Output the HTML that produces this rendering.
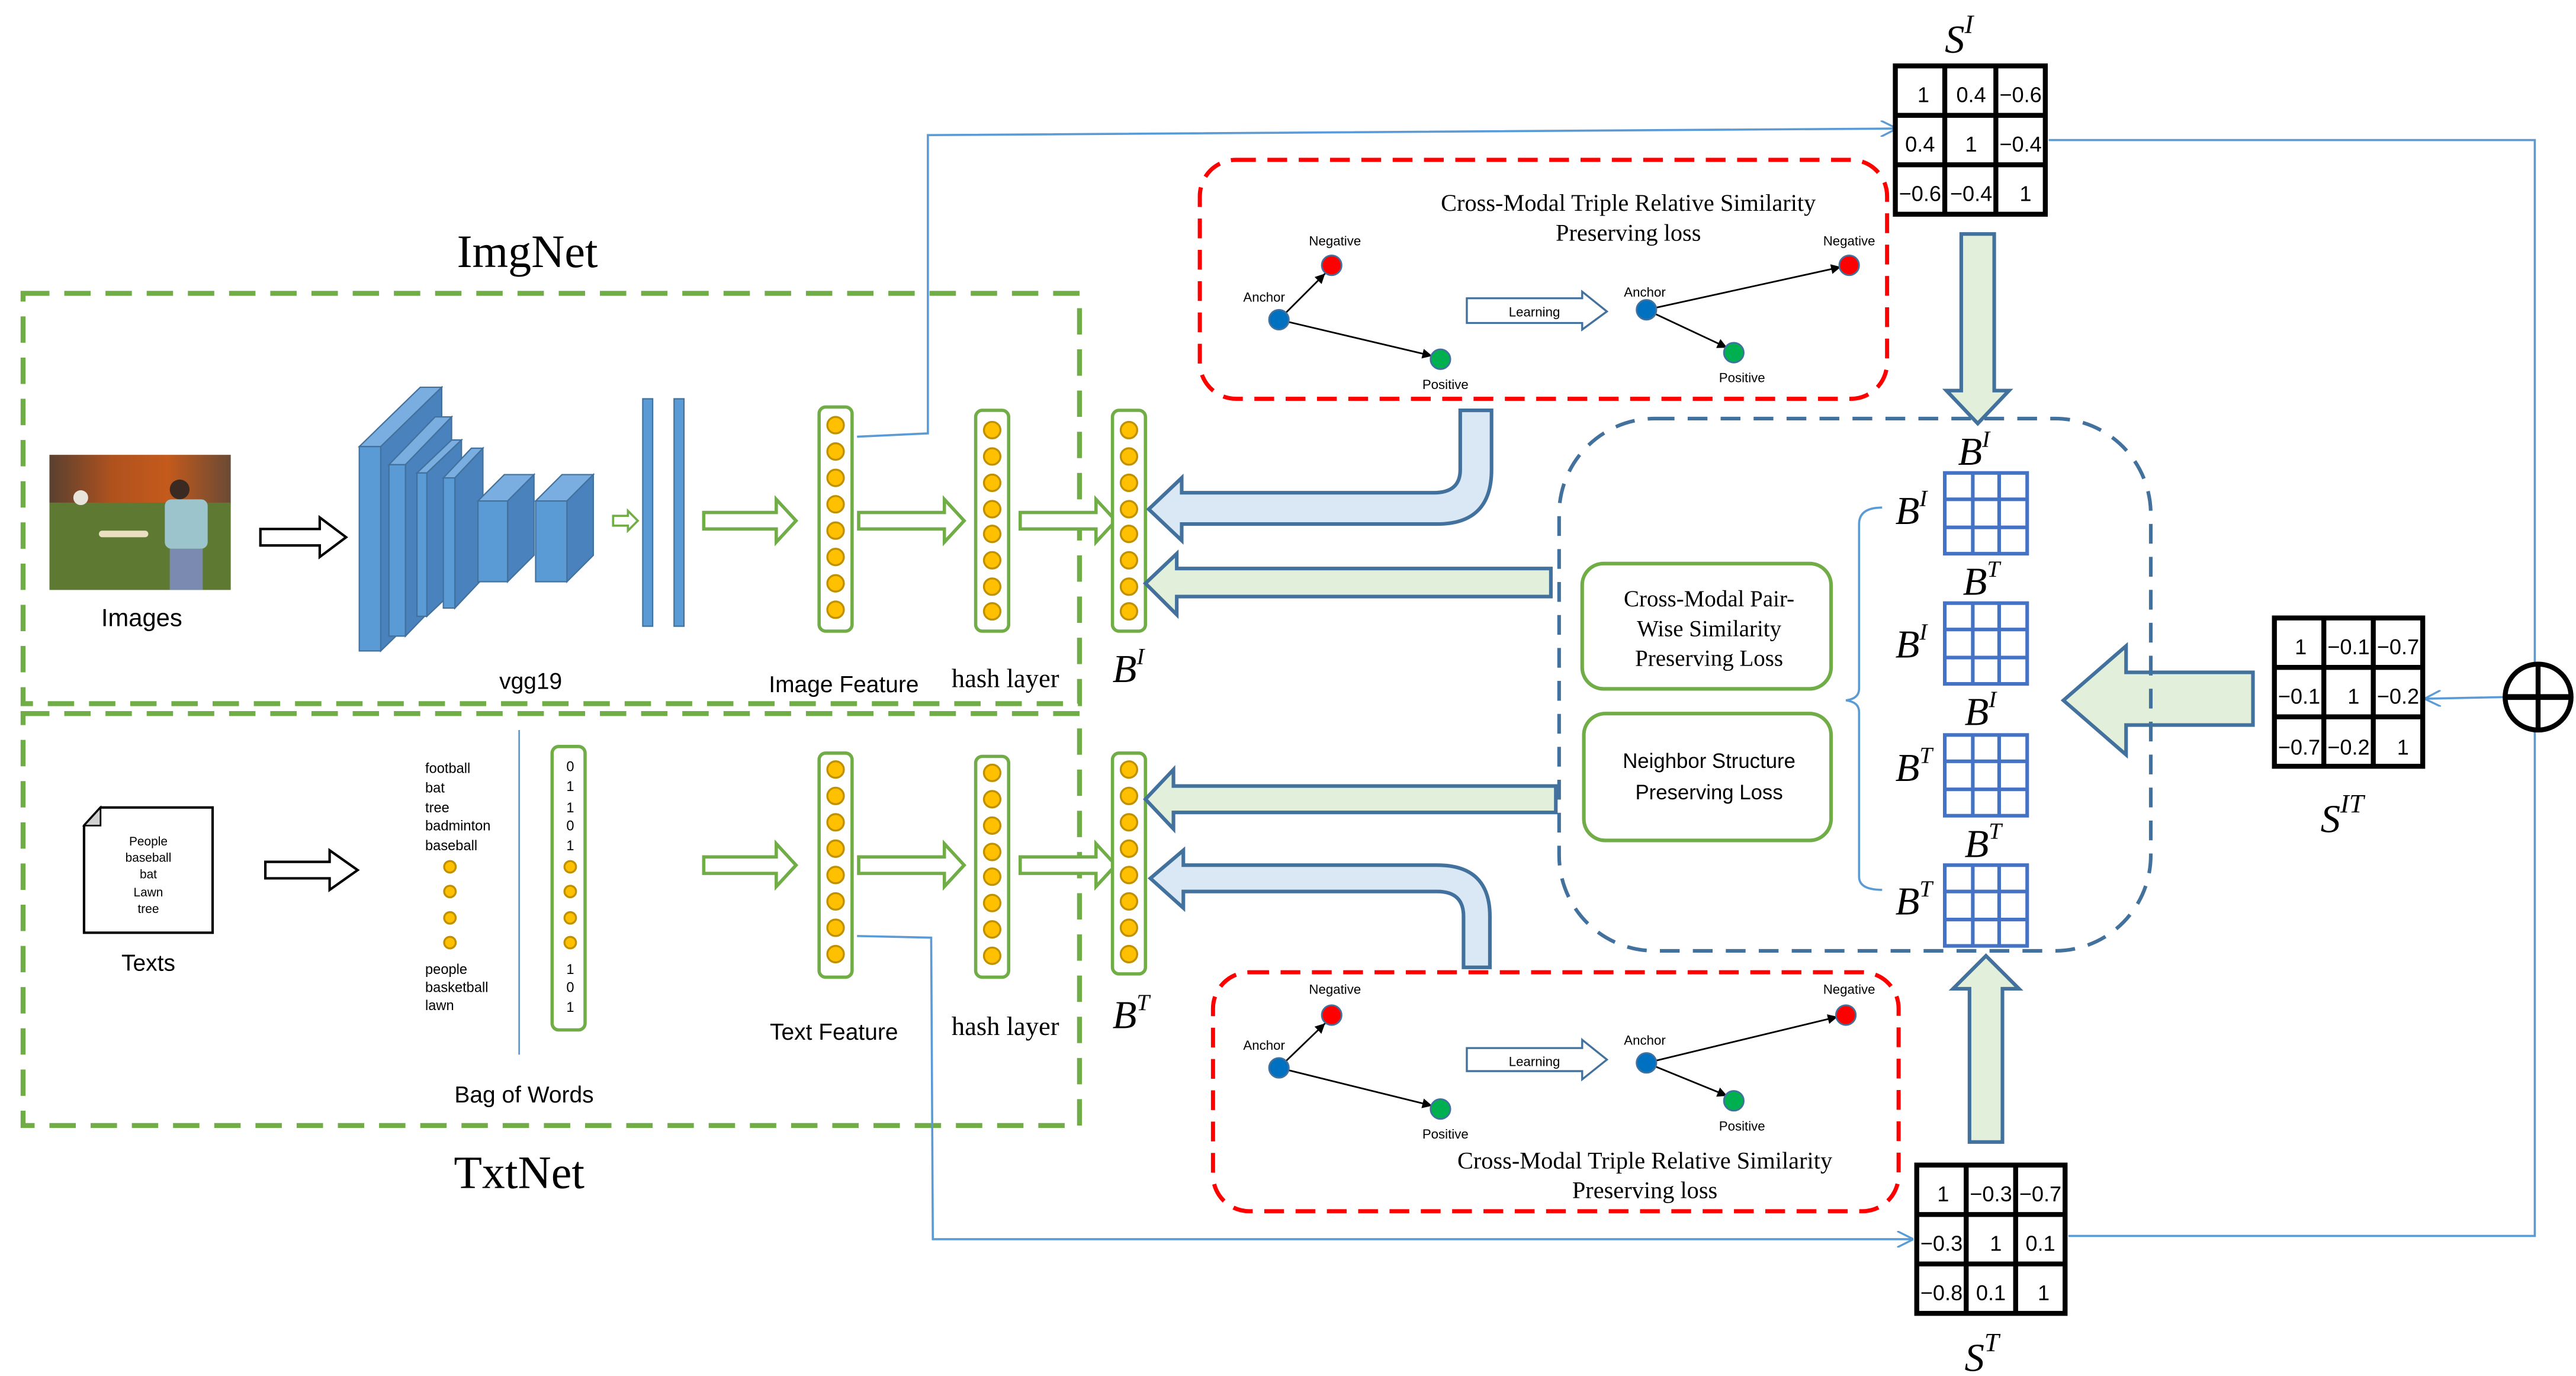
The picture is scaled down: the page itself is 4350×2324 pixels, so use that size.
<!DOCTYPE html>
<html><head><meta charset="utf-8"><style>
html,body{margin:0;padding:0;background:#fff;}
svg{display:block;}
.sans{font-family:"Liberation Sans",sans-serif;}
.serif{font-family:"Liberation Serif",serif;}
</style></head><body>
<svg width="4350" height="2324" viewBox="0 0 1563 835" preserveAspectRatio="none" xmlns="http://www.w3.org/2000/svg">
<defs>
<marker id="ab" markerWidth="10" markerHeight="10" refX="9" refY="5" orient="auto" markerUnits="userSpaceOnUse"><path d="M0,0 L10,5 L0,10" fill="none" stroke="#5b9bd5" stroke-width="1.2"/></marker>
<marker id="ak" markerWidth="6" markerHeight="6" refX="6" refY="3" orient="auto" markerUnits="userSpaceOnUse"><path d="M0,0 L6,3 L0,6 z" fill="#000"/></marker>
<linearGradient id="sky" x1="0" y1="0" x2="1" y2="0"><stop offset="0" stop-color="#5a4030"/><stop offset="0.35" stop-color="#b0521e"/><stop offset="0.65" stop-color="#c45a1c"/><stop offset="1" stop-color="#6a4a35"/></linearGradient>
</defs>
<rect width="1563" height="835" fill="#fff"/>

<!-- titles -->
<text x="320" y="162" text-anchor="middle" class="serif" font-size="28">ImgNet</text>
<text x="315" y="721" text-anchor="middle" class="serif" font-size="28">TxtNet</text>

<!-- green dashed boxes -->
<rect x="14" y="178" width="641" height="249" fill="none" stroke="#70ad47" stroke-width="3" stroke-dasharray="16,9"/>
<rect x="14" y="433" width="641" height="250" fill="none" stroke="#70ad47" stroke-width="3" stroke-dasharray="16,9"/>

<!-- photo -->
<rect x="30" y="276" width="110" height="30" fill="url(#sky)"/>
<rect x="30" y="305" width="110" height="53" fill="#5e7a32"/>
<circle cx="49" cy="302" r="4.5" fill="#e8e4dc"/>
<rect x="60" y="322" width="30" height="4" rx="2" fill="#e8e0c0"/>
<circle cx="109" cy="297" r="6" fill="#3a2a22"/>
<rect x="100" y="303" width="26" height="30" rx="4" fill="#9cc4cc"/>
<rect x="103" y="333" width="20" height="25" fill="#7a8ab0"/>
<text x="86" y="380" text-anchor="middle" class="sans" font-size="15">Images</text>

<!-- hollow black arrows -->
<path d="M158,321 L194,321 L194,314 L210,326 L194,338 L194,331 L158,331 z" fill="#fff" stroke="#000" stroke-width="1.5"/>
<path d="M161,523 L200,523 L200,516 L217,528 L200,540 L200,533 L161,533 z" fill="#fff" stroke="#000" stroke-width="1.5"/>

<!-- VGG blocks -->
<g stroke="#41719c" stroke-width="0.8">
<polygon points="218,271 255,235 268,235 231,271" fill="#7aaee0"/><polygon points="231,271 268,235 268,359 231,395" fill="#4a82bd"/><rect x="218" y="271" width="13" height="124" fill="#5b9bd5"/>
<polygon points="236,282 264,253 274,253 246,282" fill="#7aaee0"/><polygon points="246,282 274,253 274,357 246,386" fill="#4a82bd"/><rect x="236" y="282" width="10" height="104" fill="#5b9bd5"/>
<polygon points="253,287 274,267 280,267 259,287" fill="#7aaee0"/><polygon points="259,287 280,267 280,354 259,374" fill="#4a82bd"/><rect x="253" y="287" width="6" height="87" fill="#5b9bd5"/>
<polygon points="269,290 286,272 293,272 276,290" fill="#7aaee0"/><polygon points="276,290 293,272 293,351 276,369" fill="#4a82bd"/><rect x="269" y="290" width="7" height="79" fill="#5b9bd5"/>
<polygon points="290,304 306,288 324,288 308,304" fill="#7aaee0"/><polygon points="308,304 324,288 324,337 308,353" fill="#4a82bd"/><rect x="290" y="304" width="18" height="49" fill="#5b9bd5"/>
<polygon points="325,304 341,288 360,288 344,304" fill="#7aaee0"/><polygon points="344,304 360,288 360,337 344,353" fill="#4a82bd"/><rect x="325" y="304" width="19" height="49" fill="#5b9bd5"/>
<rect x="390" y="242" width="6" height="138" fill="#5b9bd5"/><rect x="409" y="242" width="6" height="138" fill="#5b9bd5"/>
</g>
<path d="M372,313 L381,313 L381,310 L387,316 L381,322 L381,319 L372,319 z" fill="#fff" stroke="#70ad47" stroke-width="1.3"/>

<!-- green hollow arrows -->
<g fill="#fff" stroke="#70ad47" stroke-width="2">
<path d="M427,311 L471,311 L471,303 L483,316 L471,329 L471,321 L427,321 z"/>
<path d="M521,311 L573,311 L573,303 L585,316 L573,329 L573,321 L521,321 z"/>
<path d="M619,311 L665,311 L665,303 L677,316 L665,329 L665,321 L619,321 z"/>
<path d="M427,520 L471,520 L471,512 L483,525 L471,538 L471,530 L427,530 z"/>
<path d="M521,520 L573,520 L573,512 L585,525 L573,538 L573,530 L521,530 z"/>
<path d="M619,520 L665,520 L665,512 L677,525 L665,538 L665,530 L619,530 z"/>
</g>

<!-- columns -->
<g fill="#fff" stroke="#70ad47" stroke-width="2">
<rect x="497" y="247" width="20" height="136" rx="4"/><rect x="592" y="249" width="20" height="134" rx="4"/><rect x="675" y="249" width="20" height="134" rx="4"/>
<rect x="497" y="457" width="20" height="136" rx="4"/><rect x="592" y="459" width="20" height="134" rx="4"/><rect x="675" y="457" width="20" height="134" rx="4"/>
<rect x="335" y="453" width="20" height="172" rx="4"/>
</g>
<g fill="#ffc000" stroke="#bf9000" stroke-width="1.2">
<circle cx="507" cy="258" r="5"/><circle cx="507" cy="274" r="5"/><circle cx="507" cy="290" r="5"/><circle cx="507" cy="306" r="5"/><circle cx="507" cy="322" r="5"/><circle cx="507" cy="338" r="5"/><circle cx="507" cy="354" r="5"/><circle cx="507" cy="370" r="5"/>
<circle cx="602" cy="261" r="5"/><circle cx="602" cy="277" r="5"/><circle cx="602" cy="293" r="5"/><circle cx="602" cy="309" r="5"/><circle cx="602" cy="324" r="5"/><circle cx="602" cy="340" r="5"/><circle cx="602" cy="356" r="5"/><circle cx="602" cy="371" r="5"/>
<circle cx="685" cy="261" r="5"/><circle cx="685" cy="277" r="5"/><circle cx="685" cy="293" r="5"/><circle cx="685" cy="309" r="5"/><circle cx="685" cy="324" r="5"/><circle cx="685" cy="340" r="5"/><circle cx="685" cy="356" r="5"/><circle cx="685" cy="371" r="5"/>
<circle cx="507" cy="467" r="5"/><circle cx="507" cy="483" r="5"/><circle cx="507" cy="499" r="5"/><circle cx="507" cy="515" r="5"/><circle cx="507" cy="531" r="5"/><circle cx="507" cy="547" r="5"/><circle cx="507" cy="563" r="5"/><circle cx="507" cy="579" r="5"/>
<circle cx="602" cy="469" r="5"/><circle cx="602" cy="485" r="5"/><circle cx="602" cy="501" r="5"/><circle cx="602" cy="517" r="5"/><circle cx="602" cy="532" r="5"/><circle cx="602" cy="548" r="5"/><circle cx="602" cy="564" r="5"/><circle cx="602" cy="580" r="5"/>
<circle cx="685" cy="467" r="5"/><circle cx="685" cy="483" r="5"/><circle cx="685" cy="499" r="5"/><circle cx="685" cy="515" r="5"/><circle cx="685" cy="531" r="5"/><circle cx="685" cy="547" r="5"/><circle cx="685" cy="563" r="5"/><circle cx="685" cy="579" r="5"/>
<circle cx="273" cy="526" r="3.5"/><circle cx="273" cy="541" r="3.5"/><circle cx="273" cy="557" r="3.5"/><circle cx="273" cy="572" r="3.5"/>
<circle cx="346" cy="526" r="3.5"/><circle cx="346" cy="541" r="3.5"/><circle cx="346" cy="557" r="3.5"/><circle cx="346" cy="572" r="3.5"/>
</g>

<!-- labels left -->
<g class="sans" font-size="14" text-anchor="middle">
<text x="322" y="418">vgg19</text>
<text x="512" y="420">Image Feature</text>
<text x="506" y="631">Text Feature</text>
<text x="318" y="669">Bag of Words</text>
<text x="90" y="589">Texts</text>
</g>
<g class="serif" font-size="16" text-anchor="middle">
<text x="610" y="417">hash layer</text>
<text x="610" y="628">hash layer</text>
</g>
<text x="675" y="414" class="serif" font-size="24" font-style="italic">B<tspan font-size="14" dy="-11">I</tspan></text>
<text x="675" y="624" class="serif" font-size="24" font-style="italic">B<tspan font-size="14" dy="-11">T</tspan></text>

<!-- document -->
<path d="M61,490 L129,490 L129,566 L51,566 L51,501 z" fill="#fff" stroke="#000" stroke-width="1.5"/>
<path d="M51,501 L61,501 L61,490 z" fill="#d0d0d0" stroke="#000" stroke-width="1"/>
<g class="sans" font-size="7.5" text-anchor="middle">
<text x="90" y="513">People</text><text x="90" y="523">baseball</text><text x="90" y="533">bat</text><text x="90" y="544">Lawn</text><text x="90" y="554">tree</text>
</g>
<g class="sans" font-size="8.5">
<text x="258" y="469">football</text><text x="258" y="481">bat</text><text x="258" y="493">tree</text><text x="258" y="504">badminton</text><text x="258" y="516">baseball</text>
<text x="258" y="591">people</text><text x="258" y="602">basketball</text><text x="258" y="613">lawn</text>
</g>
<g class="sans" font-size="8.5" text-anchor="middle">
<text x="346" y="468">0</text><text x="346" y="480">1</text><text x="346" y="493">1</text><text x="346" y="504">0</text><text x="346" y="516">1</text>
<text x="346" y="591">1</text><text x="346" y="602">0</text><text x="346" y="614">1</text>
</g>
<line x1="315" y1="443" x2="315" y2="640" stroke="#5b9bd5" stroke-width="1"/>

<!-- blue connectors -->
<g fill="none" stroke="#5b9bd5" stroke-width="1.3">
<path d="M520,265 L563,263 L563,82 L1150,78" marker-end="url(#ab)"/>
<path d="M520,568 L565,569 L566,752 L1160,752" marker-end="url(#ab)"/>
<path d="M1243,85 L1538,85 L1538,750 L1255,750"/>
<path d="M1520,423 L1472,424" marker-end="url(#ab)"/>
</g>
<circle cx="1540" cy="423" r="20" fill="#fff" stroke="#000" stroke-width="3"/>
<line x1="1520" y1="423" x2="1560" y2="423" stroke="#000" stroke-width="3.5"/>
<line x1="1540" y1="403" x2="1540" y2="443" stroke="#000" stroke-width="3"/>

<!-- red dashed boxes -->
<rect x="728" y="97" width="417" height="145" rx="22" fill="none" stroke="#ff0000" stroke-width="2.5" stroke-dasharray="12,7"/>
<rect x="736" y="590" width="416" height="145" rx="22" fill="none" stroke="#ff0000" stroke-width="2.5" stroke-dasharray="12,7"/>
<g class="serif" font-size="14.5" text-anchor="middle">
<text x="988" y="128">Cross-Modal Triple Relative Similarity</text>
<text x="988" y="146">Preserving loss</text>
<text x="998" y="709">Cross-Modal Triple Relative Similarity</text>
<text x="998" y="727">Preserving loss</text>
</g>
<g stroke="#000" stroke-width="1" marker-end="url(#ak)">
<line x1="776" y1="194" x2="804" y2="166"/><line x1="776" y1="194" x2="869" y2="216"/>
<line x1="999" y1="188" x2="1117" y2="162"/><line x1="999" y1="188" x2="1048" y2="211"/>
<line x1="776" y1="648" x2="804" y2="621"/><line x1="776" y1="648" x2="869" y2="671"/>
<line x1="999" y1="645" x2="1115" y2="617"/><line x1="999" y1="645" x2="1048" y2="665"/>
</g>
<g stroke="#41719c" stroke-width="1">
<circle cx="776" cy="194" r="6" fill="#0070c0"/><circle cx="808" cy="161" r="6" fill="#ff0000"/><circle cx="874" cy="218" r="6" fill="#00b050"/>
<circle cx="999" cy="188" r="6" fill="#0070c0"/><circle cx="1122" cy="161" r="6" fill="#ff0000"/><circle cx="1052" cy="214" r="6" fill="#00b050"/>
<circle cx="776" cy="648" r="6" fill="#0070c0"/><circle cx="808" cy="616" r="6" fill="#ff0000"/><circle cx="874" cy="673" r="6" fill="#00b050"/>
<circle cx="999" cy="645" r="6" fill="#0070c0"/><circle cx="1120" cy="616" r="6" fill="#ff0000"/><circle cx="1052" cy="668" r="6" fill="#00b050"/>
</g>
<g fill="#fff" stroke="#41719c" stroke-width="1.2">
<path d="M890,181 L960,181 L960,177 L975,189 L960,200 L960,196 L890,196 z"/>
<path d="M890,636 L960,636 L960,631 L975,643 L960,655 L960,650 L890,650 z"/>
</g>
<g class="sans" font-size="8" text-anchor="middle">
<text x="810" y="149">Negative</text><text x="767" y="183">Anchor</text><text x="877" y="236">Positive</text>
<text x="931" y="192">Learning</text>
<text x="998" y="180">Anchor</text><text x="1122" y="149">Negative</text><text x="1057" y="232">Positive</text>
<text x="810" y="603">Negative</text><text x="767" y="637">Anchor</text><text x="877" y="691">Positive</text>
<text x="931" y="647">Learning</text>
<text x="998" y="634">Anchor</text><text x="1122" y="603">Negative</text><text x="1057" y="686">Positive</text>
</g>

<!-- big arrows -->
<g stroke="#41719c" stroke-width="2.2">
<path d="M886,249 L905,249 L905,285 Q905,318 872,318 L717,318 L717,328 L697,309 L717,290 L717,299 L870,299 Q886,299 886,285 z" fill="#dae8f5"/>
<path d="M941,345 L714,345 L714,336 L695,354 L714,373 L714,362 L941,362 z" fill="#e2efda"/>
<path d="M944,477 L712,477 L712,467 L695,485 L712,503 L712,493 L944,493 z" fill="#e2efda"/>
<path d="M888,587 L904,587 L904,556 Q904,525 872,525 L718,525 L718,516 L698,533 L718,551 L718,541 L872,541 Q888,541 888,556 z" fill="#dae8f5"/>
<path d="M1190,142 L1210,142 L1210,237 L1219,237 L1200,257 L1181,237 L1190,237 z" fill="#e2efda"/>
<path d="M1195,693 L1215,693 L1215,600 L1225,600 L1205,580 L1185,600 L1195,600 z" fill="#e2efda"/>
<path d="M1367,408 L1290,408 L1290,392 L1252,425 L1290,458 L1290,440 L1367,440 z" fill="#e2efda"/>
</g>

<!-- blue dashed rounded -->
<rect x="946" y="254" width="359" height="323" rx="58" fill="none" stroke="#41719c" stroke-width="2.2" stroke-dasharray="12,8"/>
<rect x="960" y="342" width="151" height="76" rx="13" fill="#fff" stroke="#70ad47" stroke-width="2.2"/>
<rect x="961" y="433" width="150" height="77" rx="13" fill="#fff" stroke="#70ad47" stroke-width="2.2"/>
<g class="serif" font-size="14" text-anchor="middle">
<text x="1037" y="368">Cross-Modal Pair-</text><text x="1037" y="386">Wise Similarity</text><text x="1037" y="404">Preserving Loss</text>
</g>
<g class="sans" font-size="12.5" text-anchor="middle">
<text x="1037" y="466">Neighbor Structure</text><text x="1037" y="485">Preserving Loss</text>
</g>
<path d="M1142,308 Q1128,308 1128,318 L1128,418 Q1128,424 1120,425 Q1128,426 1128,432 L1128,532 Q1128,540 1142,540" fill="none" stroke="#5b9bd5" stroke-width="1.3"/>

<!-- grids -->
<g fill="none" stroke="#4472c4" stroke-width="2.2">
<rect x="1180" y="287" width="50" height="49"/><path d="M1197,287V336M1213,287V336M1180,303H1230M1180,320H1230"/>
<rect x="1180" y="366" width="50" height="49"/><path d="M1197,366V415M1213,366V415M1180,382H1230M1180,399H1230"/>
<rect x="1180" y="446" width="50" height="49"/><path d="M1197,446V495M1213,446V495M1180,462H1230M1180,479H1230"/>
<rect x="1180" y="525" width="50" height="49"/><path d="M1197,525V574M1213,525V574M1180,541H1230M1180,558H1230"/>
</g>
<g class="serif" font-size="24" font-style="italic">
<text x="1188" y="282">B<tspan font-size="14" dy="-11">I</tspan></text>
<text x="1150" y="318">B<tspan font-size="14" dy="-11">I</tspan></text>
<text x="1191" y="361">B<tspan font-size="14" dy="-11">T</tspan></text>
<text x="1150" y="399">B<tspan font-size="14" dy="-11">I</tspan></text>
<text x="1192" y="440">B<tspan font-size="14" dy="-11">I</tspan></text>
<text x="1150" y="474">B<tspan font-size="14" dy="-11">T</tspan></text>
<text x="1192" y="520">B<tspan font-size="14" dy="-11">T</tspan></text>
<text x="1150" y="555">B<tspan font-size="14" dy="-11">T</tspan></text>
<text x="1180" y="32">S<tspan font-size="16" dy="-12">I</tspan></text>
<text x="1408" y="505">S<tspan font-size="16" dy="-12">IT</tspan></text>
<text x="1192" y="832">S<tspan font-size="16" dy="-12">T</tspan></text>
</g>

<!-- matrices -->
<g fill="#fff" stroke="#000" stroke-width="3">
<rect x="1150" y="40" width="91" height="90"/><path d="M1180,40V130M1211,40V130M1150,70H1241M1150,100H1241" fill="none"/>
<rect x="1380" y="375" width="90" height="90"/><path d="M1410,375V465M1440,375V465M1380,405H1470M1380,435H1470" fill="none"/>
<rect x="1163" y="707" width="90" height="90"/><path d="M1193,707V797M1223,707V797M1163,737H1253M1163,767H1253" fill="none"/>
</g>
<g class="sans" font-size="13" text-anchor="middle">
<text x="1167" y="62">1</text><text x="1196" y="62">0.4</text><text x="1226" y="62">−0.6</text>
<text x="1165" y="92">0.4</text><text x="1196" y="92">1</text><text x="1226" y="92">−0.4</text>
<text x="1165" y="122">−0.6</text><text x="1196" y="122">−0.4</text><text x="1229" y="122">1</text>
<text x="1396" y="397">1</text><text x="1425" y="397">−0.1</text><text x="1455" y="397">−0.7</text>
<text x="1395" y="427">−0.1</text><text x="1428" y="427">1</text><text x="1455" y="427">−0.2</text>
<text x="1395" y="458">−0.7</text><text x="1425" y="458">−0.2</text><text x="1458" y="458">1</text>
<text x="1179" y="729">1</text><text x="1208" y="729">−0.3</text><text x="1238" y="729">−0.7</text>
<text x="1178" y="759">−0.3</text><text x="1211" y="759">1</text><text x="1238" y="759">0.1</text>
<text x="1178" y="789">−0.8</text><text x="1208" y="789">0.1</text><text x="1240" y="789">1</text>
</g>
</svg>
</body></html>
